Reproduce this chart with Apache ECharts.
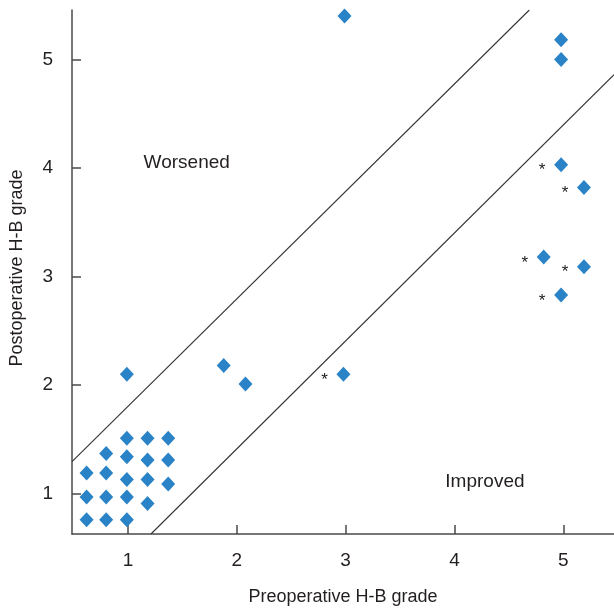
<!DOCTYPE html>
<html>
<head>
<meta charset="utf-8">
<script src="https://cdn.jsdelivr.net/npm/echarts@6/dist/echarts.min.js"></script>
<style>
html,body{margin:0;padding:0;background:#fff;}
#chart{width:614px;height:611px;}
</style>
</head>
<body>
<div id="chart"></div>
<script>
// ---- data ----
const xTitle = 'Preoperative H-B grade';
const yTitle = 'Postoperative H-B grade';
const xTicks = [1, 2, 3, 4, 5];
const yTicks = [1, 2, 3, 4, 5];
const xRange = [0.486, 5.466];
const yRange = [0.629, 5.455];

// [preoperative, postoperative]
const points = [
  [0.99, 1.51], [1.18, 1.51], [1.37, 1.51],
  [0.80, 1.37], [0.99, 1.34], [1.18, 1.31], [1.37, 1.31],
  [0.62, 1.19], [0.80, 1.19], [0.99, 1.13], [1.18, 1.13], [1.37, 1.09],
  [0.62, 0.97], [0.80, 0.97], [0.99, 0.97], [1.18, 0.91],
  [0.62, 0.76], [0.80, 0.76], [0.99, 0.76],
  [0.99, 2.10], [1.88, 2.18], [2.08, 2.01], [2.98, 2.10],
  [2.99, 5.40], [4.98, 5.18], [4.98, 5.00], [4.98, 4.03],
  [5.19, 3.82], [4.82, 3.18], [5.19, 3.09], [4.98, 2.83]
];
// 1 = marked with an asterisk
const starred = [
  0, 0, 0,
  0, 0, 0, 0,
  0, 0, 0, 0, 0,
  0, 0, 0, 0,
  0, 0, 0,
  0, 0, 0, 1,
  0, 0, 0, 1,
  1, 1, 1, 1
];

const upperBoundary = [[0.486, 1.296], [4.688, 5.455]];
const lowerBoundary = [[1.2115, 0.629], [5.466, 4.859]];

const regionNames = ['Worsened', 'Improved'];
const regionPos = [[1.54, 4.05], [4.28, 1.11]];

// ---- chart ----
const FONT = '"Liberation Sans", Arial, Helvetica, sans-serif';
const TXT = '#231f20';
const AXIS = '#4a4a4a';

const scatterData = points.map((p, i) => ({
  value: p,
  label: { show: starred[i] === 1 }
}));

const chart = echarts.init(document.getElementById('chart'), null, { renderer: 'canvas' });
chart.setOption({
  animation: false,
  backgroundColor: '#ffffff',
  grid: { left: 72, right: 0, top: 10, bottom: 75, containLabel: false },
  xAxis: {
    type: 'value',
    min: xRange[0], max: xRange[1],
    name: xTitle, nameLocation: 'middle', nameGap: 54,
    nameTextStyle: { fontFamily: FONT, fontSize: 18, color: TXT },
    axisLine: { show: true, lineStyle: { color: AXIS, width: 1.5 } },
    axisTick: { show: true, inside: true, length: 9, customValues: xTicks, lineStyle: { color: AXIS, width: 1.5 } },
    axisLabel: { show: true, customValues: xTicks, margin: 17, fontFamily: FONT, fontSize: 19, color: TXT },
    splitLine: { show: false }
  },
  yAxis: {
    type: 'value',
    min: yRange[0], max: yRange[1],
    name: yTitle, nameLocation: 'middle', nameGap: 46, nameRotate: 90,
    nameTextStyle: { fontFamily: FONT, fontSize: 18, color: TXT, padding: [0, 0, 0, 8] },
    axisLine: { show: true, lineStyle: { color: AXIS, width: 1.5 } },
    axisTick: { show: true, inside: true, length: 9, customValues: yTicks, lineStyle: { color: AXIS, width: 1.5 } },
    axisLabel: { show: true, customValues: yTicks, margin: 19, fontFamily: FONT, fontSize: 19, color: TXT },
    splitLine: { show: false }
  },
  series: [
    {
      type: 'line', data: upperBoundary, symbol: 'none', silent: true,
      lineStyle: { color: '#333', width: 1.1 }
    },
    {
      type: 'line', data: lowerBoundary, symbol: 'none', silent: true,
      lineStyle: { color: '#333', width: 1.1 }
    },
    {
      type: 'scatter', data: scatterData, symbol: 'diamond', symbolSize: [14, 15],
      itemStyle: { color: '#2a83c7', opacity: 1 },
      label: {
        formatter: '*', position: 'inside', offset: [-19, 6],
        fontFamily: FONT, fontSize: 17, color: '#222'
      },
      silent: true
    },
    {
      type: 'scatter', symbolSize: 0, silent: true,
      itemStyle: { opacity: 1 },
      data: regionNames.map((n, i) => ({ name: n, value: regionPos[i] })),
      label: {
        show: true, position: 'inside', formatter: '{b}',
        fontFamily: FONT, fontSize: 19, color: TXT
      }
    }
  ]
});
</script>
</body>
</html>
